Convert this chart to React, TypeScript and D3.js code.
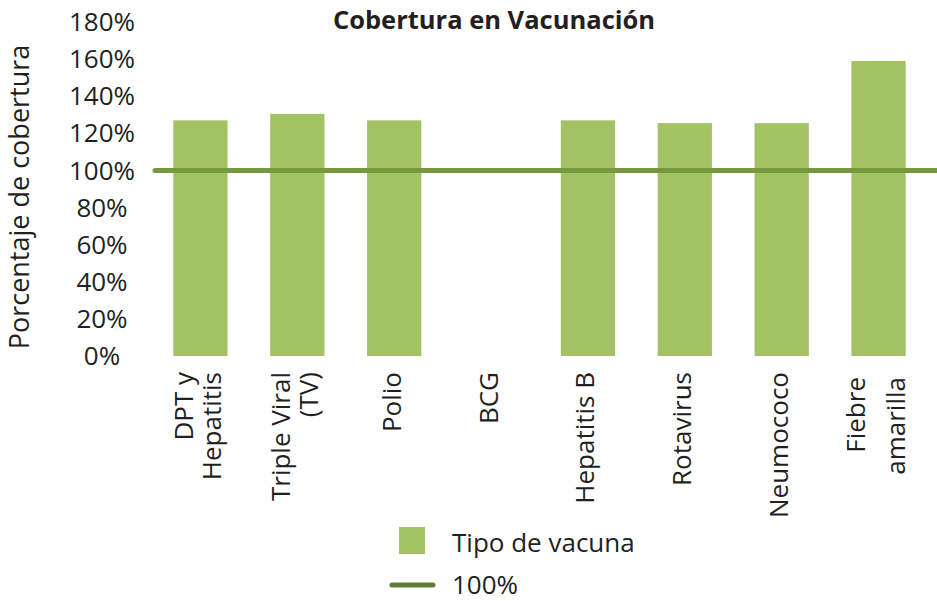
import React, { useEffect, useRef } from 'react';
import * as d3 from 'd3';

const categories = ["DPT y\nHepatitis", "Triple Viral\n(TV)", "Polio", "BCG", "Hepatitis B", "Rotavirus", "Neumococo", "Fiebre\namarilla"];
const coverage = [127, 130.5, 127, 0, 127, 125.5, 125.5, 159];
const targetValue = 100;
const yTicks = [0, 20, 40, 60, 80, 100, 120, 140, 160, 180];
const legendLabels = ["Tipo de vacuna", "100%"];

const W = 937;
const H = 601;
const FONT = "'Open Sans', sans-serif";
const TEXT = "#231f20";
const BAR = "#a3c264";
const LINE = "#76983f";

const App = () => {
  const ref = useRef<SVGSVGElement>(null);

  useEffect(() => {
    document.body.style.margin = "0";
    const svg = d3.select(ref.current);
    svg.selectAll("*").remove();

    const x = d3.scaleBand()
      .domain(categories)
      .range([152, 927])
      .paddingInner(0.44)
      .paddingOuter(0.22);

    const y = d3.scaleLinear()
      .domain([0, 180])
      .range([356, 22]);

    // title
    svg.append("text")
      .attr("x", 494)
      .attr("y", 29)
      .attr("text-anchor", "middle")
      .style("font-family", FONT)
      .style("font-size", "25.5px")
      .style("font-weight", "bold")
      .attr("fill", TEXT)
      .text("Cobertura en Vacunación");

    // y tick labels (centered, as in the original)
    svg.append("g")
      .selectAll("text")
      .data(yTicks)
      .enter()
      .append("text")
      .attr("x", 102)
      .attr("y", d => y(d))
      .attr("dy", "0.35em")
      .attr("text-anchor", "middle")
      .style("font-family", FONT)
      .style("font-size", "26px")
      .attr("fill", TEXT)
      .text(d => d + "%");

    // y axis title
    svg.append("text")
      .attr("transform", "translate(20,197) rotate(-90)")
      .attr("text-anchor", "middle")
      .attr("dy", "0.35em")
      .style("font-family", FONT)
      .style("font-size", "27px")
      .attr("fill", TEXT)
      .text("Porcentaje de cobertura");

    // bars
    svg.append("g")
      .selectAll("rect")
      .data(categories)
      .enter()
      .append("rect")
      .attr("x", d => x(d)!)
      .attr("y", (d, i) => y(coverage[i]))
      .attr("width", x.bandwidth())
      .attr("height", (d, i) => y(0) - y(coverage[i]))
      .attr("fill", BAR);

    // 100% reference line
    svg.append("line")
      .attr("x1", 155)
      .attr("x2", W + 5)
      .attr("y1", y(targetValue))
      .attr("y2", y(targetValue))
      .attr("stroke", LINE)
      .attr("stroke-width", 5)
      .attr("stroke-linecap", "round");

    // x labels, rotated
    const labels = svg.append("g")
      .selectAll("g")
      .data(categories)
      .enter()
      .append("g")
      .attr("transform", d => {
        const top = d.startsWith("Fiebre") ? 377 : 372;
        return `translate(${x(d)! + x.bandwidth() / 2},${top}) rotate(-90)`;
      });

    labels.each(function (d) {
      const lines = d.split("\n");
      const gap = d.startsWith("Fiebre") ? 40 : 28;
      const g = d3.select(this);
      lines.forEach((ln, j) => {
        g.append("text")
          .attr("x", 0)
          .attr("y", (j - (lines.length - 1) / 2) * gap)
          .attr("dy", "0.25em")
          .attr("text-anchor", "end")
          .style("font-family", FONT)
          .style("font-size", "26px")
          .attr("fill", TEXT)
          .text(ln);
      });
    });

    // legend
    const legend = svg.append("g");
    legend.append("rect")
      .attr("x", 399)
      .attr("y", 527)
      .attr("width", 26)
      .attr("height", 27)
      .attr("fill", BAR);
    legend.append("line")
      .attr("x1", 392)
      .attr("x2", 433)
      .attr("y1", 585)
      .attr("y2", 585)
      .attr("stroke", "#5e7d35")
      .attr("stroke-width", 5)
      .attr("stroke-linecap", "round");
    legend.selectAll("text")
      .data(legendLabels)
      .enter()
      .append("text")
      .attr("x", 452)
      .attr("y", (d, i) => 543 + i * 42)
      .attr("dy", "0.35em")
      .style("font-family", FONT)
      .style("font-size", "26px")
      .attr("fill", TEXT)
      .text(d => d);
  }, []);

  return (
    <svg ref={ref} width={W} height={H} style={{ display: "block", background: "#fff" }}></svg>
  );
};

export default App;
